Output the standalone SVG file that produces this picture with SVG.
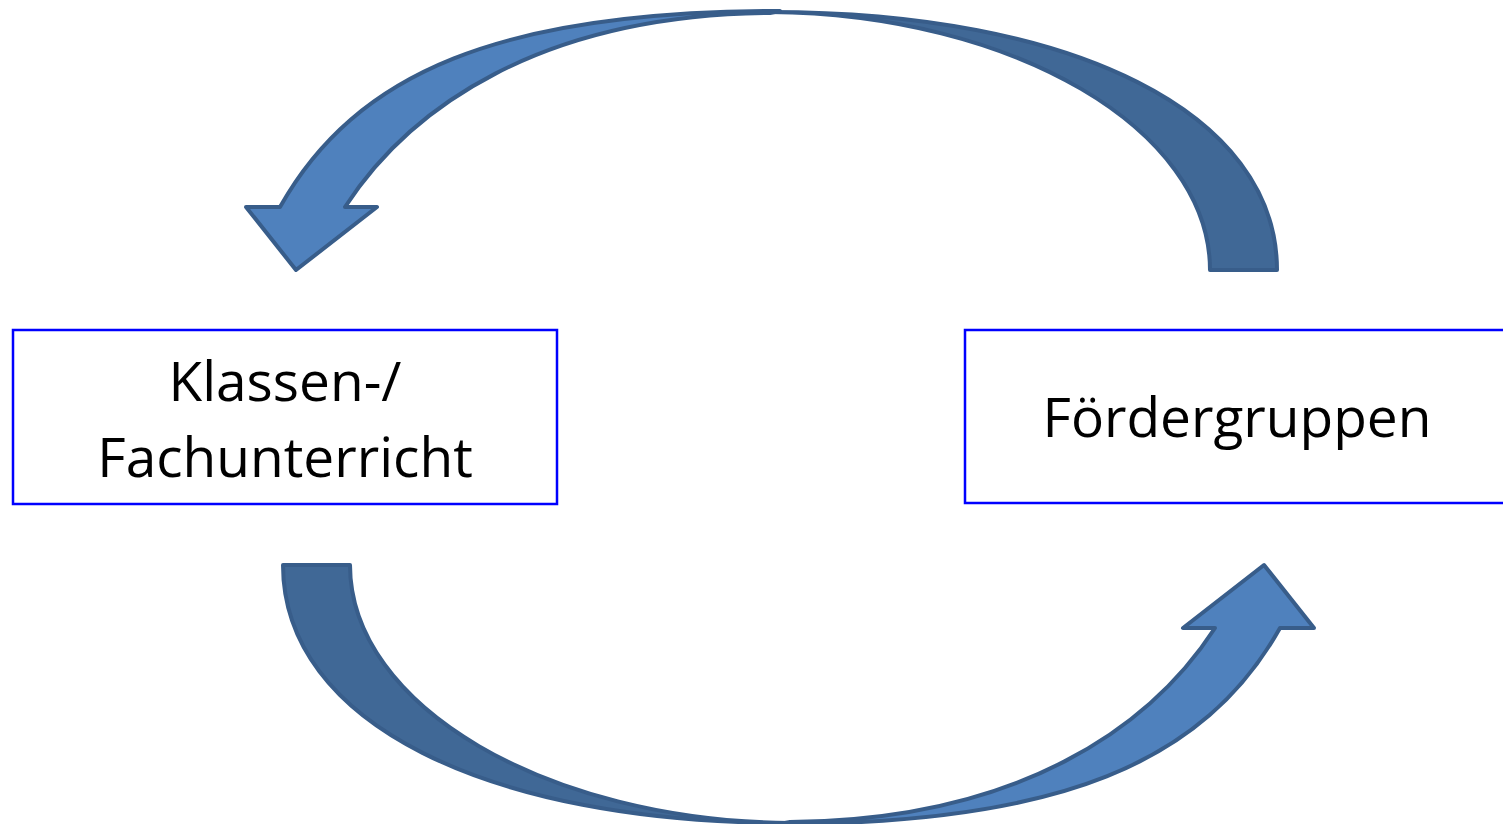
<svg xmlns="http://www.w3.org/2000/svg" width="1503" height="824" viewBox="0 0 1503 824">
<style>
.box{fill:#ffffff;stroke:#0000ff;stroke-width:2.5}
.lbl{font-family:"Open Sans","Noto Sans",sans-serif;font-size:55px;fill:#000000;text-anchor:middle}
.back{fill:#406896;stroke:#385d8a;stroke-width:4;stroke-linejoin:round}
.front{fill:#4f81bd;stroke:#385d8a;stroke-width:4;stroke-linejoin:round}
</style>
<defs>
<g id="curvedArrow">
<path class="back" d="M1277,270 C1277,113 1074,12 770,12 C1013,14 1210,129 1210,270 Z"/>
<path class="front" d="M780,11 C500,11 355.6,72.6 280,207 L246,207 L296,270 L377,207 L345,207 C409.4,108 540,15 770,13 Z"/>
</g>
</defs>
<rect width="1503" height="824" fill="#ffffff"/>
<g id="connectors">
<use id="arrow-top" href="#curvedArrow"/>
<use id="arrow-bottom" href="#curvedArrow" transform="rotate(180 780 417.5)"/>
</g>
<g id="node-klassen">
<rect class="box" x="13" y="330" width="544" height="174"/>
<text class="lbl" x="285" y="401">Klassen-/</text>
<text class="lbl" x="285" y="477">Fachunterricht</text>
</g>
<g id="node-foerder">
<rect class="box" x="965" y="330" width="560" height="173"/>
<text class="lbl" x="1237" y="437">Fördergruppen</text>
</g>
</svg>
